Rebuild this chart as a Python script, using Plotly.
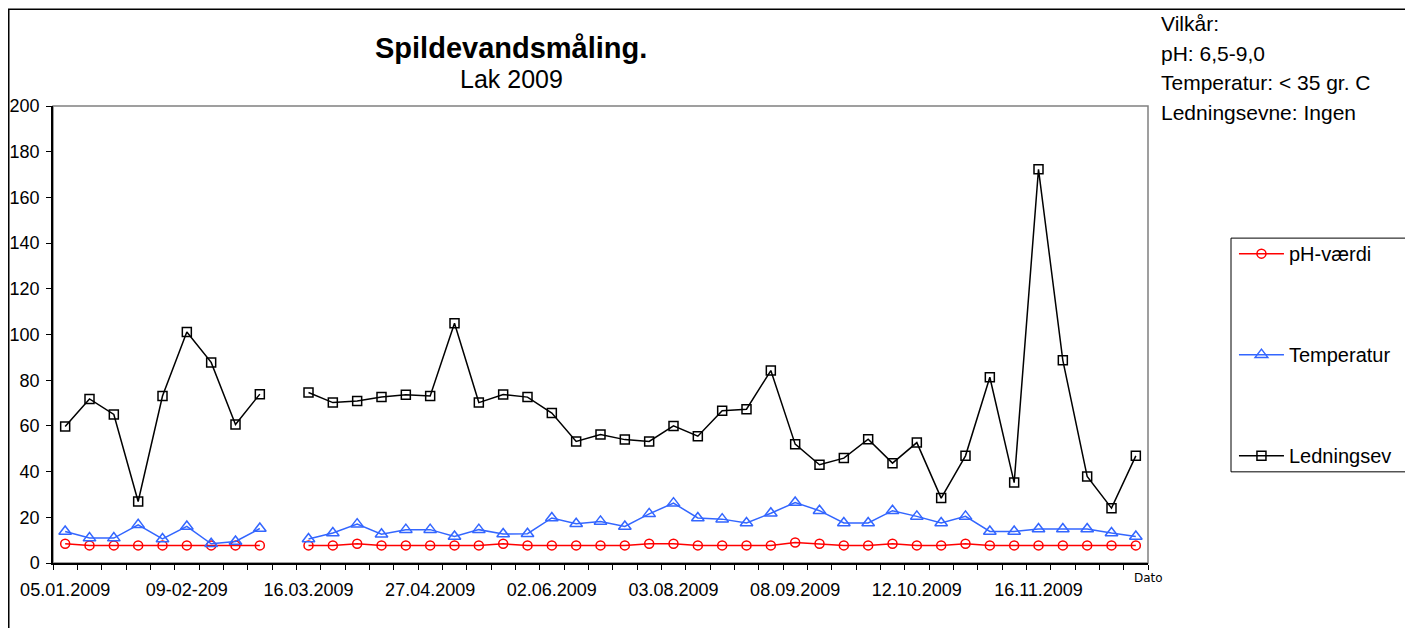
import plotly.graph_objects as go

# ---- data ----
n_categories = 45
tick_positions = [0, 5, 10, 15, 20, 25, 30, 35, 40]
tick_labels = ["05.01.2009", "09-02-209", "16.03.2009", "27.04.2009", "02.06.2009",
               "03.08.2009", "08.09.2009", "12.10.2009", "16.11.2009"]

ph_values = [8.4, 7.7, 7.7, 7.7, 7.7, 7.7, 7.7, 7.7, 7.7, None,
             7.7, 7.7, 8.4, 7.7, 7.7, 7.7, 7.7, 7.7, 8.4, 7.7,
             7.7, 7.7, 7.7, 7.7, 8.4, 8.4, 7.7, 7.7, 7.7, 7.7,
             9.0, 8.4, 7.7, 7.7, 8.4, 7.7, 7.7, 8.4, 7.7, 7.7,
             7.7, 7.7, 7.7, 7.7, 7.7]
temp_values = [13.8, 10.9, 10.9, 16.7, 10.5, 16.0, 8.4, 9.4, 15.1, None,
               10.5, 13.1, 17.0, 12.6, 14.6, 14.6, 11.6, 14.6, 12.7, 12.8,
               19.7, 17.2, 18.2, 16.0, 21.5, 26.2, 19.7, 19.2, 17.5, 21.8,
               26.5, 22.9, 17.5, 17.5, 22.9, 20.4, 17.5, 20.4, 13.8, 13.8,
               14.9, 14.9, 14.9, 13.1, 11.6]
cond_values = [59.7, 71.8, 65.0, 26.9, 73.1, 101.1, 87.8, 60.6, 73.9, None,
               74.6, 70.2, 70.9, 72.6, 73.6, 73.1, 104.9, 70.2, 73.7, 72.6,
               65.6, 53.2, 56.2, 54.0, 53.2, 60.0, 55.5, 66.6, 67.3, 84.2,
               52.0, 43.0, 45.9, 54.2, 43.7, 52.7, 28.4, 46.9, 81.3, 35.2,
               172.3, 88.7, 37.9, 24.0, 46.9]

x_index = list(range(n_categories))
boundaries = [i - 0.5 for i in range(n_categories + 1)]

FONT = "Liberation Sans, Arial, sans-serif"

fig = go.Figure()
fig.add_trace(go.Scatter(x=x_index, y=ph_values, name="pH-værdi", mode="lines+markers",
                         line=dict(color="#FF0000", width=1.5),
                         marker=dict(symbol="circle-open", size=9, color="#FF0000", line=dict(width=1.5)),
                         connectgaps=False, legendgroup="a"))
fig.add_trace(go.Scatter(x=x_index, y=temp_values, name="Temperatur", mode="lines+markers",
                         line=dict(color="#3366FF", width=1.5),
                         marker=dict(symbol="triangle-up-open", size=11, color="#3366FF", line=dict(width=1.5)),
                         connectgaps=False, legendgroup="b"))
fig.add_trace(go.Scatter(x=x_index, y=cond_values, name="Ledningsev", mode="lines+markers",
                         line=dict(color="black", width=1.5),
                         marker=dict(symbol="square-open", size=9, color="black", line=dict(width=1.5)),
                         connectgaps=False, legendgroup="c"))

fig.update_layout(
    width=1405, height=620,
    margin=dict(l=45, r=265, t=98, b=65, autoexpand=False),
    paper_bgcolor="white", plot_bgcolor="white",
    font=dict(family=FONT, size=18, color="black"),
    showlegend=True,
    legend=dict(x=1.0785, y=0.7196, xanchor="left", yanchor="top",
                font=dict(size=20), tracegroupgap=72, itemwidth=45,
                bgcolor="rgba(0,0,0,0)", borderwidth=0),
    xaxis=dict(range=[-0.5, n_categories - 0.5], tickmode="array", automargin=False,
               tickvals=tick_positions, ticktext=tick_labels, ticks="",
               showgrid=False, zeroline=False, showline=True, linecolor="black", linewidth=1.5,
               tickfont=dict(size=18), ticklabelstandoff=10,
               minor=dict(tickmode="array", tickvals=boundaries, ticks="outside",
                          ticklen=5, tickcolor="black", tickwidth=1, showgrid=False)),
    yaxis=dict(range=[0, 200], tickmode="linear", tick0=0, dtick=20, automargin=False,
               ticks="outside", ticklen=5, tickcolor="black",
               showgrid=False, zeroline=False, showline=True, linecolor="black", linewidth=1.5,
               tickfont=dict(size=18), ticklabelstandoff=3),
)

# plot-area border (grey top/right)
fig.add_shape(type="rect", xref="paper", yref="paper", x0=0, x1=1, y0=0, y1=1,
              line=dict(color="#808080", width=1.5), layer="below")
# outer chart border
fig.add_shape(type="rect", xref="paper", yref="paper", x0=-0.0404, x1=1.2365, y0=-0.2, y1=1.2119,
              line=dict(color="black", width=1.5), layer="below")
# legend box
fig.add_shape(type="rect", xref="paper", yref="paper", x0=1.0758, x1=1.2356, y0=0.1995, y1=0.7109,
              line=dict(color="black", width=1), layer="below")

fig.add_annotation(text="<b>Spildevandsmåling.</b>", xref="paper", yref="paper",
                   x=0.4187, y=1.126, showarrow=False, font=dict(size=29), xanchor="center", yanchor="middle")
fig.add_annotation(text="Lak 2009", xref="paper", yref="paper",
                   x=0.4187, y=1.058, showarrow=False, font=dict(size=25), xanchor="center", yanchor="middle")

cond_lines = ["Vilkår:", "pH: 6,5-9,0", "Temperatur: < 35 gr. C", "Ledningsevne: Ingen"]
cond_y = [1.1807, 1.1152, 1.0518, 0.9862]
for t, yy in zip(cond_lines, cond_y):
    fig.add_annotation(text=t, xref="paper", yref="paper", x=1.010, y=yy, showarrow=False,
                       font=dict(size=21), xanchor="left", yanchor="middle")

fig.add_annotation(text="Dato", xref="paper", yref="paper", x=1.0, y=-0.032, showarrow=False,
                   font=dict(size=12, family="DejaVu Sans"), xanchor="center", yanchor="middle")

fig.write_html("out.html")
